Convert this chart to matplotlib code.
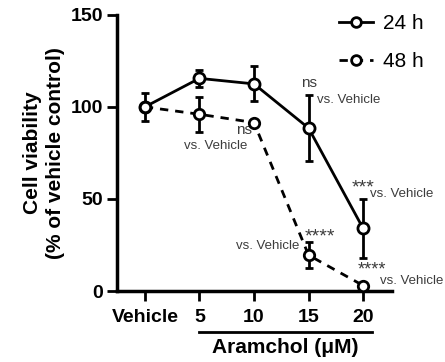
import matplotlib.pyplot as plt
import numpy as np
from matplotlib.lines import Line2D

plt.rcParams["font.family"] = ["Liberation Sans", "DejaVu Sans"]

categories = ["Vehicle", "5", "10", "15", "20"]
via_24h = [100, 115.5, 112.5, 88.5, 34]
err_24h = [7.5, 4.5, 9.5, 18, 16]
via_48h = [100, 96, 91.5, 19.5, 3]
err_48h = [0, 9.5, 0, 7, 0]

x = np.arange(len(categories))

fig = plt.figure(figsize=(4.45, 3.62), dpi=100)
ax = fig.add_axes([0.263, 0.196, 0.618, 0.763])

dash = (0, (3, 2.5))
ax.errorbar(x, via_24h, yerr=err_24h, color="black", lw=2, marker="o", ms=8,
            mfc="white", mew=2, capsize=3, capthick=2, elinewidth=2, zorder=3)
ax.errorbar(x, via_48h, yerr=err_48h, color="black", lw=2, ls=dash, marker="o", ms=7.5,
            mfc="white", mew=2, capsize=3, capthick=2, elinewidth=2, zorder=3)

ax.set_xlim(-0.51, 4.53)
ax.set_ylim(0, 150)
ax.set_xticks(x)
ax.set_xticklabels(categories, fontsize=14, fontweight="bold")
ax.set_yticks([0, 50, 100, 150])
ax.set_yticklabels(["0", "50", "100", "150"], fontsize=14, fontweight="bold")
ax.tick_params(width=2, length=7, pad=3)
ax.tick_params(axis="x", pad=6)
for s in ["top", "right"]:
    ax.spines[s].set_visible(False)
for s in ["left", "bottom"]:
    ax.spines[s].set_linewidth(2.5)

ax.set_ylabel("Cell viability\n(% of vehicle control)", fontsize=15, fontweight="bold",
              labelpad=4, linespacing=1.3)

# bracket line and label under doses
ax.plot([0.99, 4.16], [-22.3, -22.3], color="black", lw=2, clip_on=False)
ax.text(2.58, -30.5, "Aramchol (\u03bcM)", ha="center", va="center", fontsize=15, fontweight="bold")

gray = "#3c3c3c"
ax.text(3.0, 113, "ns", ha="center", va="center", fontsize=11, color=gray)
ax.text(3.15, 104, "vs. Vehicle", ha="left", va="center", fontsize=9.5, color=gray)
ax.text(1.82, 87.5, "ns", ha="center", va="center", fontsize=11, color=gray)
ax.text(1.30, 79, "vs. Vehicle", ha="center", va="center", fontsize=9.5, color=gray)
ax.text(4.0, 56, "***", ha="center", va="center", fontsize=14, color=gray)
ax.text(4.13, 52.7, "vs. Vehicle", ha="left", va="center", fontsize=9.5, color=gray)
ax.text(3.21, 29.5, "****", ha="center", va="center", fontsize=14, color=gray)
ax.text(2.84, 24.5, "vs. Vehicle", ha="right", va="center", fontsize=9.5, color=gray)
ax.text(4.17, 11.5, "****", ha="center", va="center", fontsize=13, color=gray)
ax.text(4.31, 5.2, "vs. Vehicle", ha="left", va="center", fontsize=9.5, color=gray)

handles = [
    Line2D([], [], color="black", lw=2, marker="o", ms=7, mfc="white", mew=2),
    Line2D([], [], color="black", lw=2, ls=dash, marker="o", ms=7, mfc="white", mew=2),
]
ax.legend(handles, ["24 h", "48 h"], loc="upper left", bbox_to_anchor=(0.74, 1.07),
          frameon=False, fontsize=15, handlelength=1.6, handletextpad=0.5, labelspacing=0.9)

fig.savefig("out.png", dpi=100)
